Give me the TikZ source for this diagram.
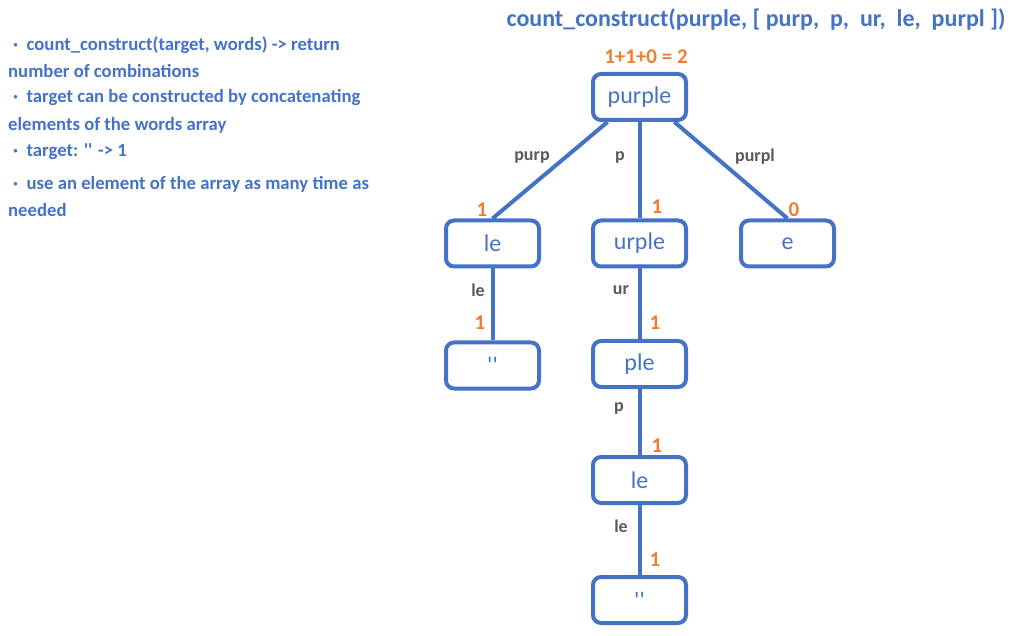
\documentclass[tikz,border=0pt]{standalone}
\usepackage{fontspec}
\setmainfont{Carlito}
\usetikzlibrary{calc}
\definecolor{cblue}{HTML}{4472C4}
\definecolor{corange}{HTML}{ED7D31}
\definecolor{cgray}{HTML}{595959}
\tikzset{
  box/.style={draw=cblue, line width=4pt, rounded corners=8pt, minimum width=93pt, minimum height=46pt, inner sep=0pt, text=cblue, font=\fontsize{24}{26}\selectfont},
  conn/.style={draw=cblue, line width=4pt},
  elab/.style={text=cgray, font=\fontsize{18}{20}\selectfont\bfseries, inner sep=0pt},
  cnt/.style={text=corange, font=\fontsize{21}{23}\selectfont\bfseries, inner sep=0pt},
  note/.style={text=cblue, font=\fontsize{18.7}{20}\selectfont\bfseries, inner sep=0pt, anchor=west},
}
\newcommand{\sq}{\textquotesingle\textquotesingle}
\begin{document}
\begin{tikzpicture}[x=1pt,y=-1pt]
\useasboundingbox (0,0) rectangle (1015,636);
% title
\node[text=cblue, font=\fontsize{24}{26}\selectfont\bfseries, inner sep=0pt] (title) at (756,19) {count\_construct(purple, [ purp,\ \ p,\ \ ur,\ \ le,\ \ purpl ])};
% notes
\node[note] (n1) at (13,45) {\textperiodcentered\ \ count\_construct(target, words) -> return};
\node[note] (n2) at (8,71) {number of combinations};
\node[note] (n3) at (13,98) {\textperiodcentered\ \ target can be constructed by concatenating};
\node[note] (n4) at (8,125) {elements of the words array};
\node[note] (n5) at (13,152) {\textperiodcentered\ \ target: \sq{} -> 1};
\node[note] (n6) at (13,184) {\textperiodcentered\ \ use an element of the array as many time as};
\node[note] (n7) at (8,210) {needed};
% boxes
\node[box] (purple) at (639.5,97) {purple};
\node[box] (le1) at (492.5,243.5) {le};
\node[box] (urple) at (639.5,243.5) {urple};
\node[box] (e) at (787.5,243.5) {e};
\node[box] (emp1) at (492.5,365.5) {\sq};
\node[box] (ple) at (639.5,364) {ple};
\node[box] (le2) at (639.5,480) {le};
\node[box] (emp2) at (639.5,600) {\sq};
% connectors
\draw[conn] ($(purple.south)+(-32,0)$) -- (le1.north);
\draw[conn] (purple.south) -- (urple.north);
\draw[conn] ($(purple.south)+(35,0)$) -- (e.north);
\draw[conn] (le1.south) -- (emp1.north);
\draw[conn] (urple.south) -- (ple.north);
\draw[conn] (ple.south) -- (le2.north);
\draw[conn] (le2.south) -- (emp2.north);
% edge labels
\node[elab] (l1) at (532,157) {purp};
\node[elab] (l2) at (620,157) {p};
\node[elab] (l3) at (755,157) {purpl};
\node[elab] (l4) at (478,290) {le};
\node[elab] (l5) at (621,290) {ur};
\node[elab] (l6) at (619,408) {p};
\node[elab] (l7) at (621,526) {le};
% counts
\node[cnt] (c0) at (646,57) {1+1+0 = 2};
\node[cnt] (c1) at (482,210) {1};
\node[cnt] (c2) at (657,207) {1};
\node[cnt] (c3) at (794,210) {0};
\node[cnt] (c4) at (480,323) {1};
\node[cnt] (c5) at (655,323) {1};
\node[cnt] (c6) at (657,446) {1};
\node[cnt] (c7) at (655,560) {1};
\end{tikzpicture}
\end{document}
